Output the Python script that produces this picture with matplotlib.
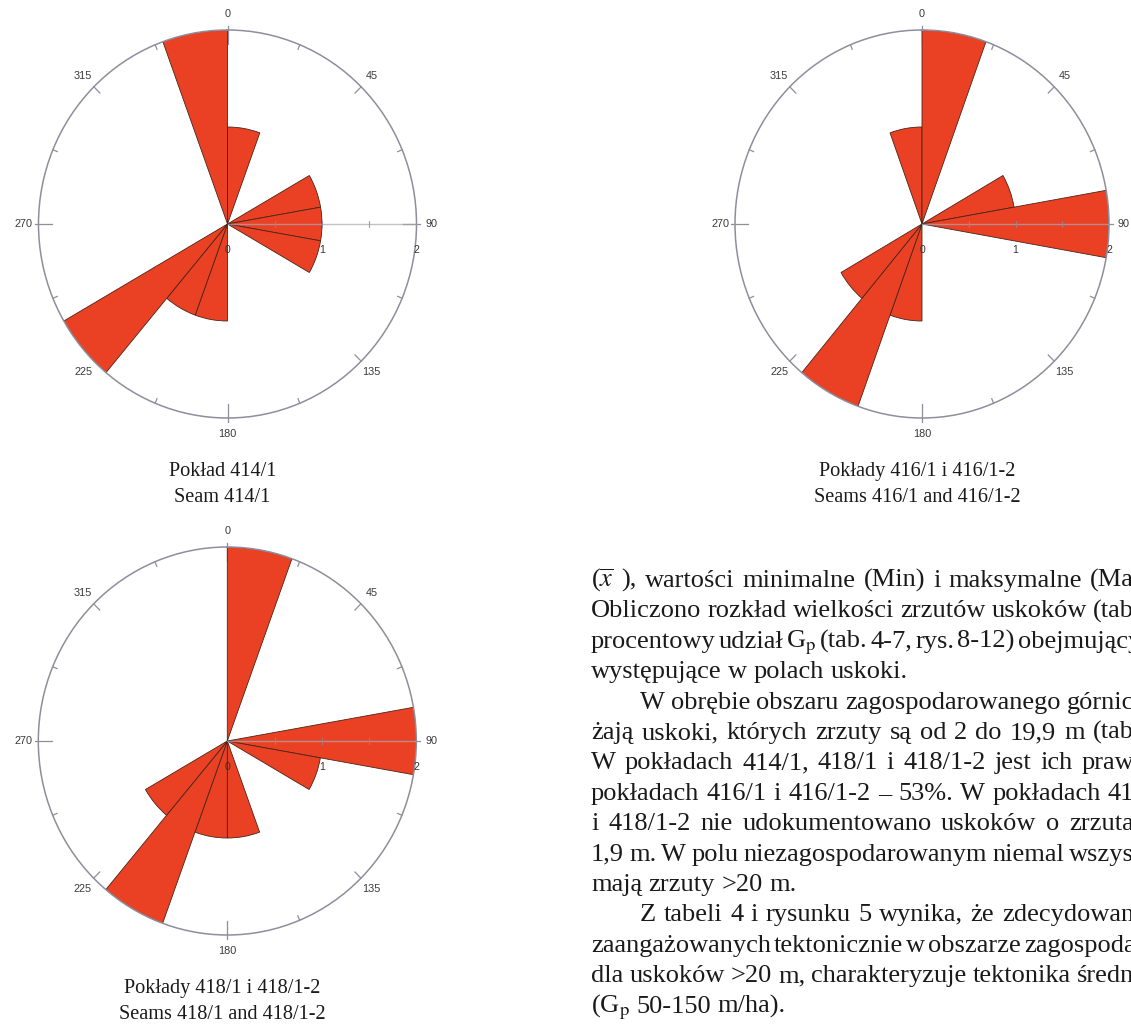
import numpy as np
import matplotlib.pyplot as plt

plt.rcParams['mathtext.fontset'] = 'stix'

# kierunki uskoków: początek przedziału 20° i liczba uskoków w przedziale
dirs_414 = [340, 0, 60, 80, 100, 180, 200, 220]
counts_414 = [2, 1, 1, 1, 1, 1, 1, 2]

dirs_416 = [340, 0, 60, 80, 180, 200, 220]
counts_416 = [1, 2, 1, 2, 1, 2, 1]

dirs_418 = [0, 80, 100, 160, 180, 200, 220]
counts_418 = [2, 2, 1, 1, 1, 2, 1]

bearing_labels = [0, 45, 90, 135, 180, 225, 270, 315]
radial_labels = [0, 1, 2]

caption_414 = ["Pokład 414/1", "Seam 414/1"]
caption_416 = ["Pokłady 416/1 i 416/1-2", "Seams 416/1 and 416/1-2"]
caption_418 = ["Pokłady 418/1 i 418/1-2", "Seams 418/1 and 418/1-2"]

body_lines = [
    r"($\overline{x}$ ), wartości minimalne (Min) i maksymalne (Ma",
    "Obliczono rozkład wielkości zrzutów uskoków (tab",
    r"procentowy udział G$_{\mathrm{p}}$ (tab. 4-7, rys. 8-12) obejmujący",
    "występujące w polach uskoki.",
    "W obrębie obszaru zagospodarowanego górnic",
    "żają uskoki, których zrzuty są od 2 do 19,9 m (tab",
    "W pokładach 414/1, 418/1 i 418/1-2 jest ich praw",
    "pokładach 416/1 i 416/1-2 – 53%. W pokładach 41",
    "i 418/1-2 nie udokumentowano uskoków o zrzuta",
    "1,9 m. W polu niezagospodarowanym niemal wszys",
    "mają zrzuty >20 m.",
    "Z tabeli 4 i rysunku 5 wynika, że zdecydowan",
    "zaangażowanych tektonicznie w obszarze zagospoda",
    "dla uskoków >20 m, charakteryzuje tektonika średn",
    r"(G$_{\mathrm{p}}$ 50-150 m/ha).",
]
indented = [4, 11]
paragraph_ends = [3, 10, 14]

W, H = 1131, 1026
RED = '#ea4125'
GREY = '#8e8e9c'

fig = plt.figure(figsize=(W / 100, H / 100), dpi=100)
fig.patch.set_facecolor('white')
renderer = fig.canvas.get_renderer()


def rose(cx, cy, rx, ry, dirs, counts, caption):
    ax = fig.add_axes([(cx - rx) / W, 1 - (cy + ry) / H, 2 * rx / W, 2 * ry / H],
                      projection='polar')
    ax.set_aspect('auto')
    ax.set_theta_zero_location('N')
    ax.set_theta_direction(-1)
    ax.set_ylim(0, 2)
    ax.set_xticks([])
    ax.set_yticks([])
    ax.grid(False)
    ax.spines['polar'].set_color(GREY)
    ax.spines['polar'].set_linewidth(1.1)

    # znaczniki na obwodzie co 22,5°
    for a in np.arange(0, 360, 22.5):
        if a % 90 == 0:
            r0, r1 = 1.86, 2.04
        elif a % 45 == 0:
            r0, r1 = 1.91, 2.0
        else:
            r0, r1 = 1.95, 2.0
        t = np.deg2rad(a)
        ax.plot([t, t], [r0, r1], color=GREY, lw=0.9, clip_on=False, zorder=1)

    ax.bar(np.deg2rad(dirs), counts, width=np.deg2rad(20), align='edge',
           color=RED, edgecolor='#4a2418', linewidth=0.6, zorder=2)

    # oś promieniowa w kierunku 90°
    ax.plot([np.pi / 2, np.pi / 2], [0, 2], color='#a8a8b4', lw=1.0,
            alpha=0.7, zorder=3)
    ax.plot([np.pi / 2] * 3, [0.5, 1.0, 1.5], ls='none', marker='|',
            ms=5, mew=0.8, color='#8a8a96', alpha=0.8, zorder=3)
    for v in radial_labels:
        ax.annotate(str(v), xy=(np.pi / 2, v), xytext=(0, -26),
                    textcoords='offset pixels', ha='center', va='center',
                    fontsize=7.5, color='#333333', family='Liberation Sans',
                    annotation_clip=False)

    for b in bearing_labels:
        ax.text(np.deg2rad(b), 2.16, str(b), ha='center', va='center',
                fontsize=7.8, color='#3a3a3a', family='Liberation Sans',
                clip_on=False)

    for i, line in enumerate(caption):
        fig.text((cx - 5) / W, 1 - (cy + 247.5 + 25.6 * i) / H, line,
                 ha='center', va='center', fontsize=14.6,
                 family='Liberation Serif', color='#1a1a1a')


rose(227.5, 224, 189, 194, dirs_414, counts_414, caption_414)
rose(922, 224, 187, 194, dirs_416, counts_416, caption_416)
rose(227.3, 741, 189, 194, dirs_418, counts_418, caption_418)

# tekst wyjustowany: odstępy między słowami dobrane tak, by wiersz sięgał krawędzi
body_style = dict(ha='left', va='baseline', fontsize=19,
                  family='Liberation Serif', color='#1a1a1a')
right_edge = 1134
for k, line in enumerate(body_lines):
    x0 = 640 if k in indented else 591
    y = 1 - (587 + 30.4 * k) / H
    words = line.split(' ')
    texts = [fig.text(0, y, w, **body_style) for w in words]
    widths = [t.get_window_extent(renderer).width for t in texts]
    gap = 6.6
    if k not in paragraph_ends and len(words) > 1:
        gap = max(3.0, (right_edge - x0 - sum(widths)) / (len(words) - 1))
    x = x0
    for t, w in zip(texts, widths):
        t.set_x(x / W)
        x += w + gap

fig.savefig('out.png', dpi=100, facecolor='white')
